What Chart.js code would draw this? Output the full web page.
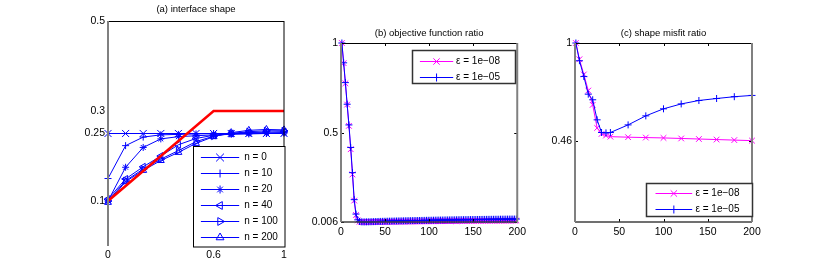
<!DOCTYPE html>
<html>
<head>
<meta charset="utf-8">
<script src="https://cdn.jsdelivr.net/npm/chart.js@4.4.0/dist/chart.umd.min.js"></script>
<style>
  html, body { margin: 0; padding: 0; background: #fff; }
  #wrap { position: relative; width: 830px; height: 277px; overflow: hidden; }
  #wrap canvas { position: absolute; top: 0; }
</style>
</head>
<body>
<div id="wrap">
  <canvas id="shapeChart" width="250" height="277" style="left:40px;width:250px;height:277px"></canvas>
  <canvas id="objChart" width="240" height="277" style="left:290px;width:240px;height:277px"></canvas>
  <canvas id="misfitChart" width="240" height="277" style="left:530px;width:240px;height:277px"></canvas>
</div>
<script>
// (a) interface shape
const shapeX = [0, 0.1, 0.2, 0.3, 0.4, 0.5, 0.6, 0.7, 0.8, 0.9, 1];
const shapeN0 = [0.25, 0.25, 0.25, 0.25, 0.25, 0.25, 0.25, 0.25, 0.25, 0.25, 0.25];
const shapeN10 = [0.15, 0.223, 0.242, 0.247, 0.248, 0.249, 0.25, 0.25, 0.251, 0.251, 0.252];
const shapeN20 = [0.1, 0.175, 0.219, 0.238, 0.243, 0.245, 0.247, 0.248, 0.249, 0.25, 0.251];
const shapeN40 = [0.104, 0.149, 0.176, 0.2, 0.225, 0.239, 0.246, 0.25, 0.252, 0.253, 0.254];
const shapeN100 = [0.1, 0.145, 0.171, 0.193, 0.212, 0.232, 0.244, 0.25, 0.254, 0.256, 0.256];
const shapeN200 = [0.097, 0.143, 0.168, 0.19, 0.208, 0.228, 0.243, 0.252, 0.257, 0.259, 0.258];
const targetX = [0, 0.6, 1];
const targetY = [0.1, 0.3, 0.3];
const shapeXTicks = [0, 0.6, 1];
const shapeXLabels = ['0', '0.6', '1'];
const shapeYTicks = [0.1, 0.25, 0.3, 0.5];
const shapeYLabels = ['0.1', '0.25', '0.3', '0.5'];

// (b) objective function ratio
const iterB = [1, 3, 5, 7, 9, 11, 13, 15, 17, 19, 21, 23, 25, 27, 29, 31, 33, 35, 37, 39,
  41, 43, 45, 47, 49, 51, 53, 55, 57, 59, 61, 63, 65, 67, 69, 71, 73, 75, 77, 79,
  81, 83, 85, 87, 89, 91, 93, 95, 97, 99, 101, 103, 105, 107, 109, 111, 113, 115, 117, 119,
  121, 123, 125, 127, 129, 131, 133, 135, 137, 139, 141, 143, 145, 147, 149, 151, 153, 155, 157, 159,
  161, 163, 165, 167, 169, 171, 173, 175, 177, 179, 181, 183, 185, 187, 189, 191, 193, 195, 197, 199];
const objEps8 = [1.0, 0.888, 0.776, 0.658, 0.54, 0.41, 0.27, 0.125, 0.045, 0.015, 0.007,
  0.0062, 0.006, 0.006, 0.0061, 0.0062, 0.0063, 0.0064, 0.0065, 0.0066, 0.0067, 0.0068, 0.0069, 0.007, 0.0071,
  0.0072, 0.0073, 0.0074, 0.0075, 0.0076, 0.0077, 0.0078, 0.0079, 0.008, 0.0081, 0.0082, 0.0083, 0.0084,
  0.0085, 0.0086, 0.0087, 0.0088, 0.0089, 0.009, 0.0091, 0.0092, 0.0093, 0.0094, 0.0095, 0.0096,
  0.0097, 0.0098, 0.0099, 0.01, 0.0101, 0.0102, 0.0103, 0.0104, 0.0105, 0.0106, 0.0107, 0.0108, 0.0109,
  0.011, 0.0111, 0.0111, 0.0112, 0.0113, 0.0114, 0.0115, 0.0116, 0.0117, 0.0118, 0.0118, 0.0119,
  0.012, 0.0121, 0.0122, 0.0123, 0.0123, 0.0124, 0.0125, 0.0126, 0.0127, 0.0127, 0.0128, 0.0129, 0.013,
  0.013, 0.0131, 0.0132, 0.0133, 0.0133, 0.0134, 0.0135, 0.0136, 0.0136, 0.0137, 0.0138, 0.0139];
const objEps5 = [1.0, 0.89, 0.78, 0.66, 0.545, 0.42, 0.28, 0.13, 0.05, 0.018, 0.009,
  0.007, 0.0065, 0.0065, 0.0068, 0.007, 0.0073, 0.0076, 0.008, 0.0083, 0.0086, 0.009, 0.0093, 0.0096, 0.0099,
  0.01, 0.0103, 0.0106, 0.0108, 0.011, 0.0113, 0.0115, 0.0118, 0.012, 0.0122, 0.0125, 0.0127, 0.013,
  0.0132, 0.0134, 0.0136, 0.0138, 0.014, 0.0142, 0.0144, 0.0146, 0.0148, 0.015, 0.0152, 0.0154,
  0.0156, 0.0158, 0.016, 0.0162, 0.0164, 0.0166, 0.0167, 0.0169, 0.017, 0.0172, 0.0174, 0.0175, 0.0177,
  0.0178, 0.018, 0.0182, 0.0183, 0.0185, 0.0186, 0.0188, 0.0189, 0.019, 0.0192, 0.0193, 0.0195,
  0.0196, 0.0197, 0.0199, 0.02, 0.0201, 0.0203, 0.0204, 0.0205, 0.0206, 0.0208, 0.0209, 0.021, 0.0211,
  0.0212, 0.0213, 0.0215, 0.0216, 0.0217, 0.0218, 0.0219, 0.022, 0.0221, 0.0222, 0.0223, 0.0224];
const objYTicks = [0.006, 0.5, 1];
const objYLabels = ['0.006', '0.5', '1'];

// (c) shape misfit ratio
const iterC = [1, 5, 10, 15, 20, 25, 30, 35, 40, 60, 80, 100, 120, 140, 160, 180, 200];
const misfitEps8 = [1, 0.91, 0.826, 0.737, 0.658, 0.53, 0.497, 0.488, 0.482, 0.479, 0.477, 0.475, 0.472, 0.469, 0.466, 0.463, 0.46];
const misfitEps5 = [1, 0.902, 0.815, 0.717, 0.686, 0.575, 0.505, 0.503, 0.505, 0.547, 0.597, 0.636, 0.663, 0.682, 0.693, 0.703, 0.71];
const misfitYTicks = [0.46, 1];
const misfitYLabels = ['0.46', '1'];

const iterTicks = [0, 50, 100, 150, 200];
const iterLabels = ['0', '50', '100', '150', '200'];

const FONT = '"Liberation Sans", Arial, sans-serif';
const BLUE = '#0000ff';
const MAGENTA = '#ff00ff';
const RED = '#ff0000';
const HOLLOW = 'rgba(0,0,0,0)';

function xyPoints(xs, ys) {
  return xs.map((x, i) => ({ x: x, y: ys[i] }));
}

// box edges + small inward ticks, matlab style
const framePlugin = {
  id: 'frame',
  afterDatasetsDraw(chart, args, opts) {
    const ctx = chart.ctx;
    const a = chart.chartArea;
    const sx = chart.scales.x, sy = chart.scales.y;
    ctx.save();
    if (opts.tickLen) {
      ctx.strokeStyle = '#000';
      ctx.lineWidth = 1;
      ctx.beginPath();
      sx.ticks.forEach(t => {
        const px = Math.round(sx.getPixelForValue(t.value)) + 0.5;
        ctx.moveTo(px, a.top); ctx.lineTo(px, a.top + opts.tickLen);
        ctx.moveTo(px, a.bottom); ctx.lineTo(px, a.bottom - opts.tickLen);
      });
      sy.ticks.forEach(t => {
        const py = Math.round(sy.getPixelForValue(t.value)) + 0.5;
        ctx.moveTo(a.left, py); ctx.lineTo(a.left + opts.tickLen, py);
        ctx.moveTo(a.right, py); ctx.lineTo(a.right - opts.tickLen, py);
      });
      ctx.stroke();
    }
    const e = opts.edges;
    const edge = (spec, x0, y0, x1, y1) => {
      if (!spec) return;
      ctx.strokeStyle = spec[0];
      ctx.lineWidth = spec[1];
      ctx.beginPath();
      ctx.moveTo(x0, y0);
      ctx.lineTo(x1, y1);
      ctx.stroke();
    };
    edge(e.top, a.left, a.top + 0.5, a.right, a.top + 0.5);
    edge(e.bottom, a.left, a.bottom, a.right, a.bottom);
    edge(e.right, a.right, a.top, a.right, a.bottom);
    edge(e.left, a.left, a.top, a.left, a.bottom);
    ctx.restore();
  }
};

// legend box with line + marker samples, like the matlab one
const boxLegendPlugin = {
  id: 'boxLegend',
  afterDraw(chart, args, o) {
    const ctx = chart.ctx;
    const a = chart.chartArea;
    const left = Math.round(a.right - o.right - o.width) + 0.5;
    const top = Math.round(o.top != null ? a.top + o.top : a.bottom - o.bottom - o.height) + 0.5;
    ctx.save();
    ctx.fillStyle = '#fff';
    ctx.fillRect(left, top, o.width, o.height);
    ctx.strokeStyle = o.borderColor;
    ctx.lineWidth = o.borderWidth;
    ctx.strokeRect(left, top, o.width, o.height);
    const items = chart.data.datasets.filter(d => d.label);
    ctx.font = '10px ' + FONT;
    ctx.textBaseline = 'middle';
    ctx.textAlign = 'left';
    items.forEach((d, i) => {
      const y = Math.round(top + o.firstRow + i * o.rowGap) + 0.5;
      ctx.strokeStyle = d.borderColor;
      ctx.lineWidth = d.borderWidth;
      ctx.beginPath();
      ctx.moveTo(left + o.lineFrom, y);
      ctx.lineTo(left + o.lineTo, y);
      ctx.stroke();
      ctx.fillStyle = HOLLOW;
      Chart.helpers.drawPoint(ctx, {
        pointStyle: d.pointStyle,
        rotation: d.pointRotation || 0,
        radius: d.pointRadius + 0.5,
        borderWidth: d.pointBorderWidth
      }, left + (o.lineFrom + o.lineTo) / 2, y);
      ctx.fillStyle = '#000';
      ctx.fillText(d.label, left + o.textX, y);
    });
    ctx.restore();
  }
};

function makePanel(id, p) {
  return new Chart(document.getElementById(id), {
    type: 'line',
    data: { datasets: p.datasets },
    plugins: [framePlugin, boxLegendPlugin],
    options: {
      responsive: false,
      devicePixelRatio: 1,
      animation: false,
      events: [],
      layout: { padding: { left: 0, right: p.padRight, top: 0, bottom: 0 } },
      scales: {
        x: {
          type: 'linear',
          min: p.xMin,
          max: p.xMax,
          grid: { display: false, drawTicks: false },
          border: { display: false },
          afterBuildTicks: s => { s.ticks = p.xTicks.map(v => ({ value: v })); },
          afterFit: s => { s.height = p.xHeight; },
          ticks: {
            autoSkip: false, maxRotation: 0, padding: p.xPad, color: '#000',
            font: { family: FONT, size: 10.5 },
            callback: (v, i) => p.xLabels[i]
          }
        },
        y: {
          type: 'linear',
          min: p.yMin,
          max: p.yMax,
          grid: { display: false, drawTicks: false },
          border: { display: false },
          afterBuildTicks: s => { s.ticks = p.yTicks.map(v => ({ value: v })); },
          afterFit: s => { s.width = p.yWidth; },
          ticks: {
            autoSkip: false, padding: 3, color: '#000',
            font: { family: FONT, size: 10.5 },
            callback: (v, i) => p.yLabels[i]
          }
        }
      },
      plugins: {
        legend: { display: false },
        tooltip: { enabled: false },
        title: {
          display: true, text: p.title, fullSize: false, color: '#000',
          font: { family: FONT, size: 9.5, weight: 'normal' },
          padding: p.titlePad
        },
        frame: p.frame,
        boxLegend: p.legend
      }
    }
  });
}

function shapeSeries(label, ys, style, radius, rotation) {
  return {
    label: label, data: xyPoints(shapeX, ys),
    borderColor: BLUE, borderWidth: 1,
    pointStyle: style, pointRadius: radius, pointRotation: rotation || 0,
    pointBorderWidth: 1, pointBorderColor: BLUE, pointBackgroundColor: HOLLOW,
    order: 1, clip: false
  };
}

function epsSeries(label, xs, ys, color, style, radius, order) {
  return {
    label: label, data: xyPoints(xs, ys),
    borderColor: color, borderWidth: 1,
    pointStyle: style, pointRadius: radius,
    pointBorderWidth: 1, pointBorderColor: color, pointBackgroundColor: HOLLOW,
    order: order, clip: false
  };
}

makePanel('shapeChart', {
  title: '(a) interface shape',
  titlePad: { top: 3.3, bottom: 6.3 },
  padRight: 4, yWidth: 68, xHeight: 31, xPad: 3,
  xMin: 0, xMax: 1, xTicks: shapeXTicks, xLabels: shapeXLabels,
  yMin: 0, yMax: 0.5, yTicks: shapeYTicks, yLabels: shapeYLabels,
  datasets: [
    { data: xyPoints(targetX, targetY), borderColor: RED, borderWidth: 2.5, pointRadius: 0, order: 0 },
    shapeSeries('n = 0', shapeN0, 'crossRot', 5),
    shapeSeries('n = 10', shapeN10, 'cross', 3.5),
    shapeSeries('n = 20', shapeN20, 'star', 3.5),
    shapeSeries('n = 40', shapeN40, 'triangle', 4, -90),
    shapeSeries('n = 100', shapeN100, 'triangle', 4, 90),
    shapeSeries('n = 200', shapeN200, 'triangle', 4)
  ],
  frame: { tickLen: 0, edges: { top: ['#000', 1], right: ['#000', 1], left: ['#808080', 2] } },
  legend: { right: 0, bottom: 0, width: 91.5, height: 100.5, firstRow: 10, rowGap: 16.1,
            lineFrom: 7.4, lineTo: 45.7, textX: 50.7, borderColor: '#000', borderWidth: 1 }
});

makePanel('objChart', {
  title: '(b) objective function ratio',
  titlePad: { top: 27.6, bottom: 4 },
  padRight: 11, yWidth: 51, xHeight: 55, xPad: 4,
  xMin: 0, xMax: 200, xTicks: iterTicks, xLabels: iterLabels,
  yMin: 0.006, yMax: 1, yTicks: objYTicks, yLabels: objYLabels,
  datasets: [
    epsSeries('ε = 1e−08', iterB, objEps8, MAGENTA, 'crossRot', 4, 2),
    epsSeries('ε = 1e−05', iterB, objEps5, BLUE, 'cross', 3.5, 1)
  ],
  frame: { tickLen: 3, edges: { top: ['#000', 1], right: ['#808080', 2], left: ['#808080', 2], bottom: ['#404040', 1.5] } },
  legend: { top: 7, right: 2, width: 103, height: 33, firstRow: 10.7, rowGap: 15.3,
            lineFrom: 7.4, lineTo: 40.7, textX: 43.5, borderColor: '#333', borderWidth: 1.5 }
});

makePanel('misfitChart', {
  title: '(c) shape misfit ratio',
  titlePad: { top: 27.6, bottom: 4 },
  padRight: 18, yWidth: 45, xHeight: 55, xPad: 4,
  xMin: 0, xMax: 200, xTicks: iterTicks, xLabels: iterLabels,
  yMin: 0.01, yMax: 1, yTicks: misfitYTicks, yLabels: misfitYLabels,
  datasets: [
    epsSeries('ε = 1e−08', iterC, misfitEps8, MAGENTA, 'crossRot', 4, 2),
    epsSeries('ε = 1e−05', iterC, misfitEps5, BLUE, 'cross', 3.5, 1)
  ],
  frame: { tickLen: 3, edges: { top: ['#000', 1], right: ['#808080', 2], left: ['#808080', 2], bottom: ['#404040', 1.5] } },
  legend: { right: 0, bottom: 6, width: 106, height: 33, firstRow: 9.6, rowGap: 15.4,
            lineFrom: 9, lineTo: 45.7, textX: 49, borderColor: '#333', borderWidth: 1.5 }
});
</script>
</body>
</html>
